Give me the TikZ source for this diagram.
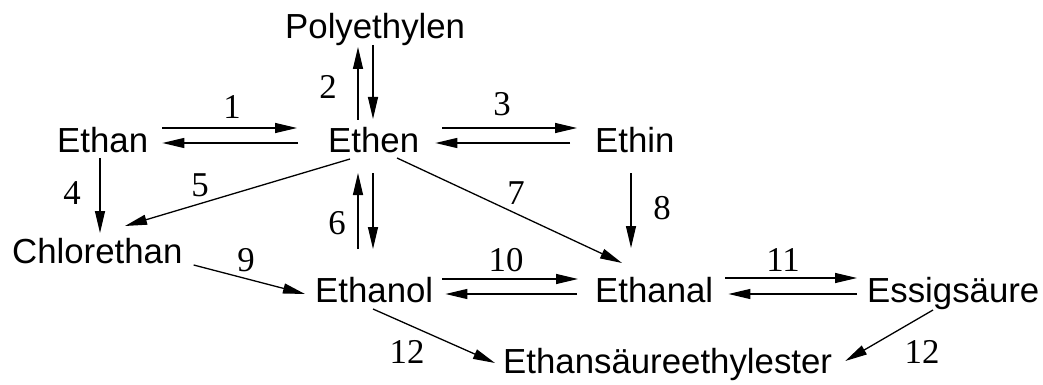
\documentclass[tikz,border=0pt]{standalone}
\usepackage{fontspec}
\setmainfont{Liberation Sans}
\newfontfamily\numfont{Liberation Serif}
\usetikzlibrary{arrows.meta}
\begin{document}
\begin{tikzpicture}[x=1pt,y=1pt,
  chem/.style={anchor=base west,inner sep=0pt,font=\fontsize{34.8pt}{40pt}\selectfont},
  num/.style={anchor=center,inner sep=0pt,font=\numfont\fontsize{34.8pt}{40pt}\selectfont},
  arr/.style={line width=1.3pt,-{Triangle[length=22pt,width=10pt]}}]
\useasboundingbox (0,0) rectangle (1043,-385);
% substances
\node[chem] (poly)  at (285,-39)  {Polyethylen};
\node[chem] (ethan) at (57,-152)  {Ethan};
\node[chem] (ethen) at (328,-152) {Ethen};
\node[chem] (ethin) at (595,-152) {Ethin};
\node[chem] (chlor) at (12,-263)  {Chlorethan};
\node[chem] (ethol) at (315,-302) {Ethanol};
\node[chem] (ethal) at (595,-302) {Ethanal};
\node[chem] (essig) at (867,-302) {Essigsäure};
\node[chem] (ester) at (503,-373) {Ethansäureethylester};
% numbers
\node[num] (n1)  at (232,-107) {1};
\node[num] (n2)  at (328,-87)  {2};
\node[num] (n3)  at (502,-104) {3};
\node[num] (n4)  at (72,-193)  {4};
\node[num] (n5)  at (200,-185) {5};
\node[num] (n6)  at (337,-223) {6};
\node[num] (n7)  at (516,-193) {7};
\node[num] (n8)  at (662,-208) {8};
\node[num] (n9)  at (246,-260) {9};
\node[num] (n10) at (506,-260) {10};
\node[num] (n11) at (783,-260) {11};
\node[num] (n12a) at (407,-352) {12};
\node[num] (n12b) at (922,-352) {12};
% 1
\draw[arr] ([shift={(14pt,24pt)}]ethan.base east) -- ([shift={(-31pt,24pt)}]ethen.base west);
\draw[arr] ([shift={(-30pt,9pt)}]ethen.base west) -- ([shift={(14pt,9pt)}]ethan.base east);
% 2
\draw[arr] ([shift={(30pt,32pt)}]ethen.base west) -- ([shift={(73pt,-8pt)}]poly.base west);
\draw[arr] ([shift={(88pt,-6pt)}]poly.base west) -- ([shift={(45pt,33pt)}]ethen.base west);
% 3
\draw[arr] ([shift={(23pt,24pt)}]ethen.base east) -- ([shift={(-18pt,24pt)}]ethin.base west);
\draw[arr] ([shift={(-25pt,9pt)}]ethin.base west) -- ([shift={(16pt,9pt)}]ethen.base east);
% 4
\draw[arr] ([shift={(43pt,-6pt)}]ethan.base west) -- ([shift={(88pt,30pt)}]chlor.base west);
% 5
\draw[arr] ([shift={(22pt,-7pt)}]ethen.base west) -- ([shift={(113pt,37pt)}]chlor.base west);
% 6
\draw[arr] ([shift={(43pt,53pt)}]ethol.base west) -- ([shift={(30pt,-21pt)}]ethen.base west);
\draw[arr] ([shift={(45pt,-21pt)}]ethen.base west) -- ([shift={(58pt,53pt)}]ethol.base west);
% 7
\draw[arr] ([shift={(69pt,-6pt)}]ethen.base west) -- ([shift={(27pt,39pt)}]ethal.base west);
% 8
\draw[arr] ([shift={(36pt,-21pt)}]ethin.base west) -- ([shift={(36pt,54pt)}]ethal.base west);
% 9
\draw[arr] ([shift={(11pt,-2pt)}]chlor.base east) -- ([shift={(-10pt,8pt)}]ethol.base west);
% 10
\draw[arr] ([shift={(9pt,23pt)}]ethol.base east) -- ([shift={(-17pt,23pt)}]ethal.base west);
\draw[arr] ([shift={(-18pt,8pt)}]ethal.base west) -- ([shift={(12pt,8pt)}]ethol.base east);
% 11
\draw[arr] ([shift={(12pt,24pt)}]ethal.base east) -- ([shift={(-10pt,24pt)}]essig.base west);
\draw[arr] ([shift={(-10pt,8pt)}]essig.base west) -- ([shift={(15pt,8pt)}]ethal.base east);
% 12
\draw[arr] ([shift={(58pt,-7pt)}]ethol.base west) -- ([shift={(-8pt,10pt)}]ester.base west);
\draw[arr] ([shift={(66pt,-8pt)}]essig.base west) -- ([shift={(13pt,12pt)}]ester.base east);
\end{tikzpicture}
\end{document}
